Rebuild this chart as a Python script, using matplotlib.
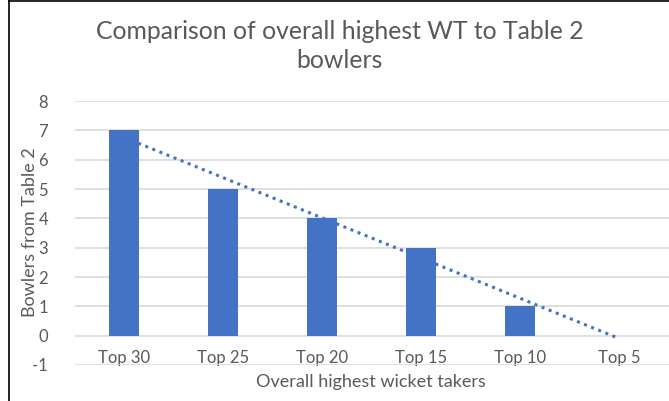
import numpy as np
import matplotlib.pyplot as plt
from matplotlib.lines import Line2D

plt.rcParams['font.family'] = ['Lato', 'DejaVu Sans']
plt.rcParams['axes.unicode_minus'] = False

# --- data ---
categories = ['Top 30', 'Top 25', 'Top 20', 'Top 15', 'Top 10', 'Top 5']
bowlers = [7, 5, 4, 3, 1, 0]

TITLE = 'Comparison of overall highest WT to Table 2\nbowlers'
XLABEL = 'Overall highest wicket takers'
YLABEL = 'Bowlers from Table 2'

BAR_COLOR = '#4472C4'
TEXT_COLOR = '#595959'
GRID_COLOR = '#D9D9D9'

fig = plt.figure(figsize=(6.69, 4.01), dpi=100)
ax = fig.add_axes([0.1114, 0.0898, 0.888, 0.658])

x = np.arange(len(categories))
ax.bar(x, bowlers, width=0.30, color=BAR_COLOR, zorder=3)

# linear trendline (Excel style)
slope, intercept = np.polyfit(x + 1, bowlers, 1)
tx = np.array([0, len(categories) - 1])
ax.plot(tx, slope * (tx + 1) + intercept, linestyle=(0, (1, 1.5)),
        color=BAR_COLOR, linewidth=2.2, zorder=4)

ax.set_xlim(-0.5, len(categories) - 0.5)
ax.set_ylim(-1, 8)
ax.set_yticks(range(-1, 9))
ax.yaxis.grid(True, color=GRID_COLOR, linewidth=1.2, zorder=0)
ax.set_axisbelow(True)

for s in ax.spines.values():
    s.set_visible(False)

ax.set_xticks(x)
ax.set_xticklabels(categories)
ax.spines['bottom'].set_position(('data', 0))
ax.tick_params(axis='x', length=0, pad=10, labelsize=12, labelcolor=TEXT_COLOR)
ax.tick_params(axis='y', length=0, pad=19, labelsize=12, labelcolor=TEXT_COLOR)

fig.text(0.555, 0.047, XLABEL, ha='center', va='center', fontsize=13, color=TEXT_COLOR)
fig.text(0.045, 0.42, YLABEL, ha='center', va='center', rotation=90,
         fontsize=13, color=TEXT_COLOR)
fig.text(0.508, 0.885, TITLE, ha='center', va='center', fontsize=17.8,
         color=TEXT_COLOR, linespacing=1.35)

# chart border (left and top visible in the crop)
fig.add_artist(Line2D([0.0135, 0.0135], [0, 0.997], transform=fig.transFigure,
                      color='black', linewidth=1.2))
fig.add_artist(Line2D([0.0135, 1], [0.997, 0.997], transform=fig.transFigure,
                      color='black', linewidth=1.2))

fig.savefig('out.png', dpi=100)
